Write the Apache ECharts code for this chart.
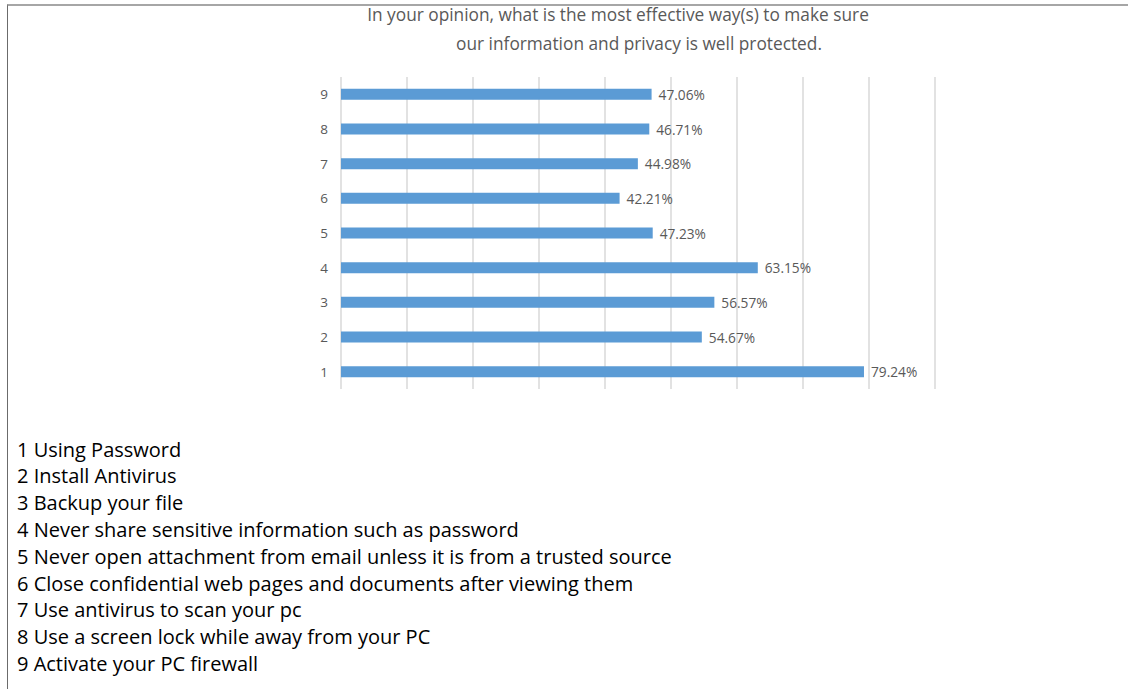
<!DOCTYPE html>
<html>
<head>
<meta charset="utf-8">
<script src="https://cdn.jsdelivr.net/npm/echarts@6/dist/echarts.min.js"></script>
<style>
    html, body {margin: 0; padding: 0; background: #fff;}
    #frame {position: absolute; left: 7px; top: 4px; width: 1121px; height: 685px;
        border-top: 2px solid #a6a6a6; border-left: 1px solid #6b6b6b;}
    #chart {position: absolute; left: 0; top: 0; width: 1128px; height: 689px;}
</style>
</head>
<body>
<div id="frame"></div>
<div id="chart"></div>
<script>
    /*数据*/
    const categories = ['1', '2', '3', '4', '5', '6', '7', '8', '9'];
    const values = [79.24, 54.67, 56.57, 63.15, 47.23, 42.21, 44.98, 46.71, 47.06];
    const descriptions = [
        'Using Password',
        'Install Antivirus',
        'Backup your file',
        'Never share sensitive information such as password',
        'Never open attachment from email unless it is from a trusted source',
        'Close confidential web pages and documents after viewing them',
        'Use antivirus to scan your pc',
        'Use a screen lock while away from your PC',
        'Activate your PC firewall'
    ];
    const titleLines = [
        'In your opinion, what is the most effective way(s) to make sure',
        'our information and privacy is well protected.'
    ];

    let myChart = echarts.init(document.getElementById('chart'), null, {renderer: 'svg'});

    /*标题和说明文字*/
    let graphics = [
        {type: 'text', x: 618, y: 14, style: {text: titleLines[0], fill: '#595959',
            font: '17.3px "Open Sans"', align: 'center', verticalAlign: 'middle'}},
        {type: 'text', x: 639, y: 43, style: {text: titleLines[1], fill: '#595959',
            font: '17.3px "Open Sans"', align: 'center', verticalAlign: 'middle'}}
    ];
    descriptions.forEach((d, i) => {
        graphics.push({
            type: 'text', x: 17, y: 449 + i * 26.8,
            style: {text: categories[i] + ' ' + d, fill: '#000', font: '20px "Open Sans"',
                align: 'left', verticalAlign: 'middle'}
        });
    });

    let option = {
        animation: false,
        graphic: graphics,
        grid: {left: 341, right: 193, top: 77, bottom: 300},
        xAxis: {
            type: 'value',
            min: 0,
            max: 90,
            interval: 10,
            axisLine: {show: false},
            axisTick: {show: false},
            axisLabel: {show: false},
            splitLine: {lineStyle: {color: '#d9d9d9', width: 1.5}}
        },
        yAxis: {
            type: 'category',
            data: categories,
            axisLine: {show: false},
            axisTick: {show: false},
            axisLabel: {color: '#595959', fontFamily: 'Open Sans', fontSize: 13.5, margin: 13}
        },
        series: [{
            type: 'bar',
            data: values,
            barWidth: 11,
            itemStyle: {color: '#5b9bd5'},
            label: {
                show: true,
                position: 'right',
                distance: 7,
                color: '#595959',
                fontFamily: 'Open Sans',
                fontSize: 13.7,
                formatter: (p) => p.value.toFixed(2) + '%'
            }
        }]
    };

    myChart.setOption(option);
</script>
</body>
</html>
